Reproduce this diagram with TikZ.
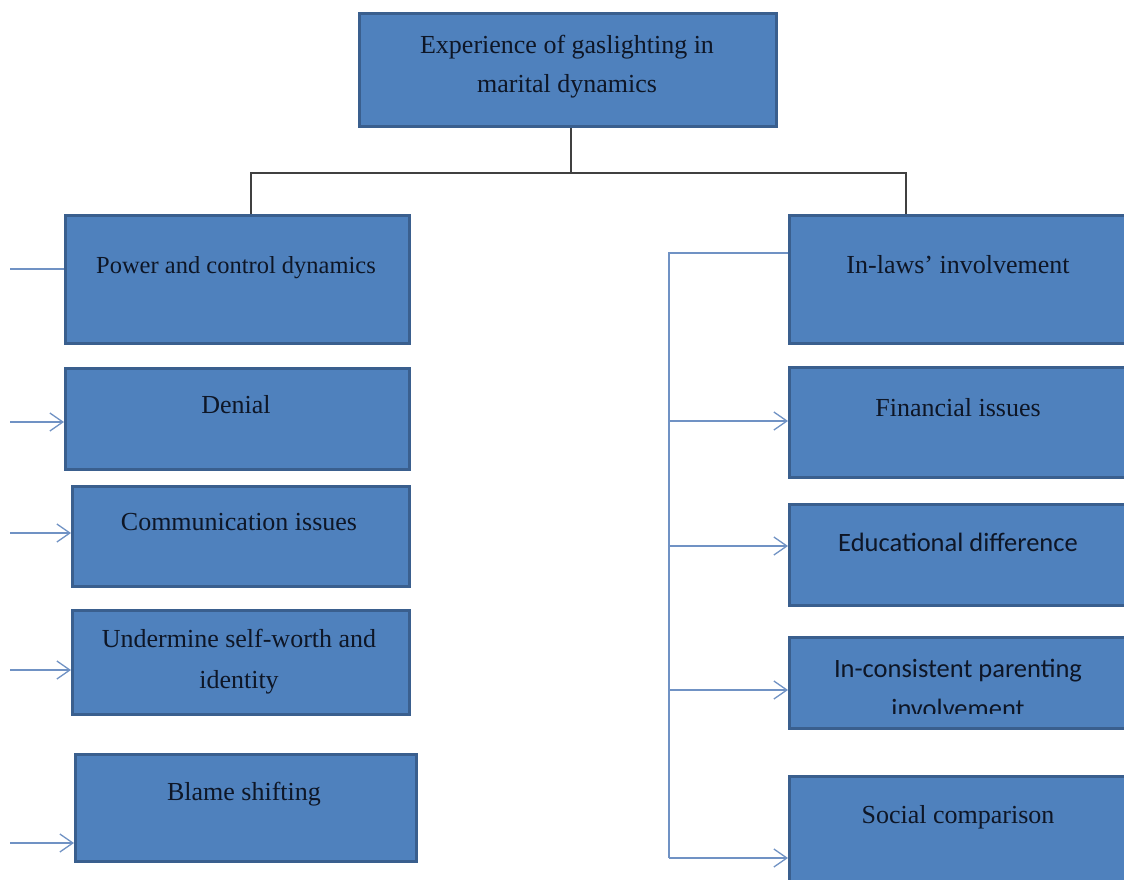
\documentclass[tikz,border=0pt]{standalone}
\usepackage{fontspec}
\setmainfont{Liberation Serif}
\newfontfamily\calib{Carlito}
\usetikzlibrary{arrows.meta}
\definecolor{boxfill}{HTML}{4F81BD}
\definecolor{boxline}{HTML}{3A5F8E}
\definecolor{arrowc}{HTML}{7092C4}
\definecolor{treec}{HTML}{404040}
\definecolor{txtc}{HTML}{0E1626}
\tikzset{
  box/.style={draw=boxline, fill=boxfill, line width=3pt, rectangle, anchor=north west, inner sep=0pt},
  lbl/.style={text=txtc, font=\fontsize{26}{40}\selectfont, anchor=base, inner sep=0pt},
  clbl/.style={lbl, font=\calib\fontsize{26.5}{40}\selectfont},
  conn/.style={draw=arrowc, line width=1.3pt},
  arr/.style={conn, -{Straight Barb[length=13pt,width=18pt,line width=1.3pt]}},
  tree/.style={draw=treec, line width=1.5pt}
}
\begin{document}
\begin{tikzpicture}[x=1pt,y=-1pt]
\clip (0,0) rectangle (1124,880);
\fill[white] (0,0) rectangle (1124,880);

% top box
\node[box, minimum width=417pt, minimum height=113pt] (top) at (358,12) {};
\node[lbl] (top-t1) at (567,54) {Experience of gaslighting in};
\node[lbl] (top-t2) at (567,93) {marital dynamics};

% left boxes
\node[box, minimum width=344pt, minimum height=128pt] (l1) at (64,214) {};
\node[lbl, font=\fontsize{24.5}{40}\selectfont] (l1-t) at (236,273) {Power and control dynamics};
\node[box, minimum width=344pt, minimum height=101pt] (l2) at (64,367) {};
\node[lbl] (l2-t) at (236,413) {Denial};
\node[box, minimum width=337pt, minimum height=100pt] (l3) at (71,485) {};
\node[lbl] (l3-t) at (239,530) {Communication issues};
\node[box, minimum width=337pt, minimum height=104pt] (l4) at (71,609) {};
\node[lbl] (l4-t1) at (239,647) {Undermine self-worth and};
\node[lbl] (l4-t2) at (239,688) {identity};
\node[box, minimum width=341pt, minimum height=107pt] (l5) at (74,753) {};
\node[lbl] (l5-t) at (244,800) {Blame shifting};

% right boxes
\node[box, minimum width=345pt, minimum height=128pt] (r1) at (788,214) {};
\node[lbl] (r1-t) at (958,273) {In-laws' involvement};
\node[box, minimum width=345pt, minimum height=110pt] (r2) at (788,366) {};
\node[lbl] (r2-t) at (958,416) {Financial issues};
\node[box, minimum width=345pt, minimum height=101pt] (r3) at (788,503) {};
\node[clbl] (r3-t) at (958,551) {Educational difference};
\node[box, minimum width=345pt, minimum height=91pt] (r4) at (788,636) {};
\node[clbl] (r4-t1) at (958,677) {In-consistent parenting};
\begin{scope}
  \clip (788,640) rectangle (1124,713);
  \node[clbl] (r4-t2) at (958,717) {involvement};
\end{scope}
\node[box, minimum width=345pt, minimum height=120pt] (r5) at (788,775) {};
\node[lbl] (r5-t) at (958,823) {Social comparison};

% tree from the top box
\coordinate (tj) at (571,173);
\coordinate (tl) at (251,173);
\coordinate (tr) at (906,173);
\draw[tree] (top.south -| tj) -- (tj);
\draw[tree] (tl |- l1.north) -- (tl) -- (tr) -- (tr |- r1.north);

% left feeders
\coordinate (a1) at (10,269);
\coordinate (a2) at (10,422);
\coordinate (a3) at (10,533);
\coordinate (a4) at (10,670);
\coordinate (a5) at (10,843);
\draw[conn] (a1) -- (a1 -| l1.west);
\draw[arr] (a2) -- (a2 -| l2.west);
\draw[arr] (a3) -- (a3 -| l3.west);
\draw[arr] (a4) -- (a4 -| l4.west);
\draw[arr] (a5) -- (a5 -| l5.west);

% right bus
\coordinate (b1) at (669,253);
\coordinate (b2) at (669,421);
\coordinate (b3) at (669,546);
\coordinate (b4) at (669,690);
\coordinate (b5) at (669,858);
\draw[conn] (b5) -- (b1) -- (b1 -| r1.west);
\draw[arr] (b2) -- (b2 -| r2.west);
\draw[arr] (b3) -- (b3 -| r3.west);
\draw[arr] (b4) -- (b4 -| r4.west);
\draw[arr] (b5) -- (b5 -| r5.west);
\end{tikzpicture}
\end{document}
